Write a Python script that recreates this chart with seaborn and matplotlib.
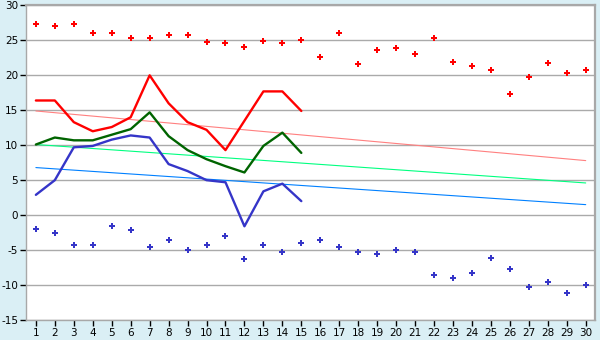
import matplotlib
matplotlib.use("Agg")
import matplotlib.pyplot as plt
import seaborn as sns
import pandas as pd

days = list(range(1, 31))
max_points = [27.3, 27.0, 27.3, 26.0, 26.0, 25.4, 25.4, 25.8, 25.8, 24.7,
              24.6, 24.1, 24.9, 24.6, 25.0, 22.6, 26.0, 21.6, 23.6, 23.9,
              23.0, 25.4, 21.9, 21.3, 20.7, 17.4, 19.7, 21.7, 20.4, 20.7]
min_points = [-2.0, -2.6, -4.3, -4.3, -1.6, -2.1, -4.6, -3.6, -5.0, -4.3,
              -3.0, -6.3, -4.3, -5.3, -4.0, -3.6, -4.6, -5.3, -5.6, -5.0,
              -5.3, -8.6, -9.0, -8.3, -6.1, -7.7, -10.3, -9.6, -11.1, -10.0]
line_days = list(range(1, 16))
max_line = [16.4, 16.4, 13.3, 12.0, 12.6, 14.0, 20.0, 16.0, 13.3, 12.2,
            9.3, 13.5, 17.7, 17.7, 14.9]
mean_line = [10.1, 11.1, 10.7, 10.7, 11.5, 12.3, 14.7, 11.3, 9.3, 8.0,
             7.0, 6.1, 9.9, 11.8, 8.9]
min_line = [2.9, 5.0, 9.7, 9.9, 10.8, 11.4, 11.1, 7.3, 6.3, 5.0,
            4.7, -1.6, 3.4, 4.5, 2.0]
trend_days = [1, 30]
trend_max = [14.9, 7.8]
trend_mean = [10.1, 4.6]
trend_min = [6.8, 1.5]

sns.set_theme(style="white")
plt.rcParams['font.family'] = ['DejaVu Sans']
plt.rcParams['axes.unicode_minus'] = False

fig = plt.figure(figsize=(6, 3.4), dpi=100)
fig.patch.set_facecolor('#DAEFF5')
ax = fig.add_axes([0.044, 0.059, 0.948, 0.925])
ax.set_facecolor('white')

ax.yaxis.grid(True, color='#AAAAAA', linewidth=1.0)
ax.set_axisbelow(True)

sns.lineplot(x=trend_days, y=trend_max, ax=ax, color='#FF8080', linewidth=0.8)
sns.lineplot(x=trend_days, y=trend_mean, ax=ax, color='#00FF80', linewidth=0.8)
sns.lineplot(x=trend_days, y=trend_min, ax=ax, color='#0080FF', linewidth=0.8)

sns.lineplot(x=line_days, y=max_line, ax=ax, color='#FF0000', linewidth=1.7)
sns.lineplot(x=line_days, y=mean_line, ax=ax, color='#006400', linewidth=1.7)
sns.lineplot(x=line_days, y=min_line, ax=ax, color='#3535C8', linewidth=1.7)

sns.scatterplot(x=days, y=max_points, ax=ax, color='#FF0000', marker='P', s=24, linewidth=0)
sns.scatterplot(x=days, y=min_points, ax=ax, color='#3535C8', marker='P', s=24, linewidth=0)

ax.set_xlim(0.5, 30.5)
ax.set_ylim(-15, 30)
ax.set_xticks(days)
ax.set_xticklabels([str(d) for d in days])
ax.set_yticks(list(range(-15, 31, 5)))
ax.tick_params(axis='both', labelsize=7.5, colors='black', length=4, width=1,
               direction='out', pad=2)
ax.tick_params(axis='x', bottom=True)
ax.tick_params(axis='y', left=True)

for side in ['top', 'right']:
    ax.spines[side].set_color('#A8A8A8')
    ax.spines[side].set_linewidth(1.6)
for side in ['left', 'bottom']:
    ax.spines[side].set_color('#A8A8A8')
    ax.spines[side].set_linewidth(1.0)

ax.set_xlabel('')
ax.set_ylabel('')
if ax.get_legend():
    ax.get_legend().remove()

fig.savefig('out.png', dpi=100, facecolor=fig.get_facecolor())
